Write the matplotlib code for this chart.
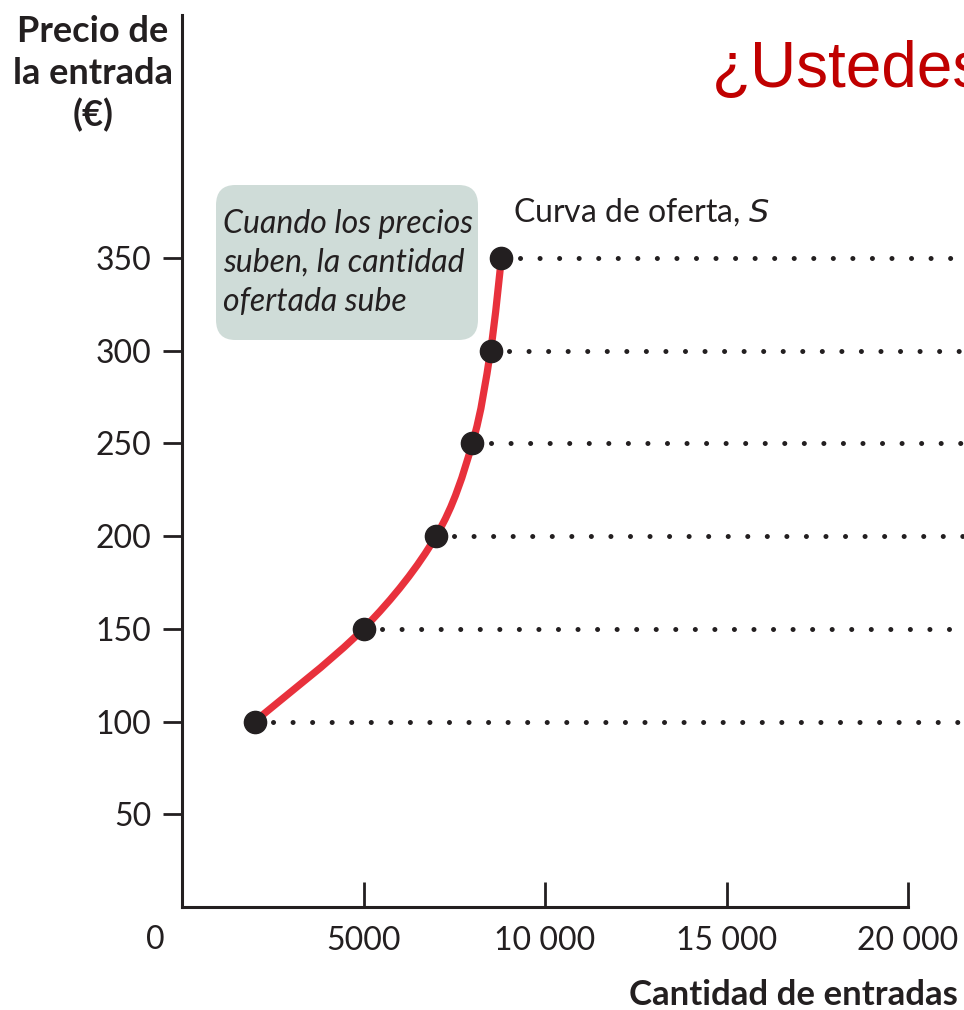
import matplotlib
matplotlib.use("Agg")
import matplotlib.pyplot as plt
from matplotlib.path import Path
from matplotlib.patches import PathPatch, FancyBboxPatch
import numpy as np

# Data
quantity = [2000, 5000, 7000, 8000, 8500, 8800]
price = [100, 150, 200, 250, 300, 350]
x_ticks = [5000, 10000, 15000, 20000]
x_tick_labels = ["5000", "10 000", "15 000", "20 000"]
y_ticks = [50, 100, 150, 200, 250, 300, 350]
y_tick_labels = ["50", "100", "150", "200", "250", "300", "350"]

FONT = "Lato"
TS = 23
fig = plt.figure(figsize=(9.64, 10.10), dpi=100)
ax = fig.add_axes([182/964, 1-907/1010, 1-182/964, (907-15)/1010])
xmax = (964-182)/36.3*1000
ymax = (907-15)/92.75*50
ax.set_xlim(0, xmax)
ax.set_ylim(0, ymax)

for s in ["top", "right"]:
    ax.spines[s].set_visible(False)
ax.spines["bottom"].set_bounds(0, 20000)
for s in ["left", "bottom"]:
    ax.spines[s].set_linewidth(2.2)
    ax.spines[s].set_color("#231f20")

ax.set_xticks(x_ticks)
ax.set_xticklabels(x_tick_labels, fontfamily=FONT, fontsize=TS, color="#231f20")
ax.set_yticks(y_ticks)
ax.set_yticklabels(y_tick_labels, fontfamily=FONT, fontsize=TS, color="#231f20")
ax.tick_params(axis="x", direction="in", length=18, width=2, color="#231f20", pad=14)
ax.tick_params(axis="y", direction="out", length=14, width=2, color="#231f20", pad=8)

# zero label
fig.text(155/964, 1-940/1010, "0", ha="center", va="center",
         fontfamily=FONT, fontsize=TS, color="#231f20")

# dotted lines
for q, p in zip(quantity, price):
    ax.plot([q + 500, xmax], [p, p], color="#231f20", lw=3.6,
            linestyle=(0, (0.01, 3.9)), dash_capstyle="round", clip_on=False, zorder=2)

# smooth supply curve (Catmull-Rom -> cubic Bezier) through data points
pts = np.column_stack([quantity, price]).astype(float)
sx, sy = 36.3/1000, 92.75/50
P = pts * [sx, sy]
verts = [tuple(P[0])]
codes = [Path.MOVETO]
n = len(P)
for i in range(n-1):
    p0 = P[i-1] if i > 0 else P[i]
    p1, p2 = P[i], P[i+1]
    p3 = P[i+2] if i+2 < n else P[i+1]
    c1 = p1 + (p2 - p0) / 6.0
    c2 = p2 - (p3 - p1) / 6.0
    verts += [tuple(c1), tuple(c2), tuple(p2)]
    codes += [Path.CURVE4]*3
verts = np.array(verts) / [sx, sy]
path = Path(verts, codes)
ax.add_patch(PathPatch(path, facecolor="none", edgecolor="#e8313c", lw=5.2,
                       capstyle="round", zorder=3))

ax.plot(quantity, price, "o", color="#231f20", markersize=16, zorder=4, clip_on=False)

# annotation box
box = FancyBboxPatch((216/964, 1-340/1010), (478-216)/964, (340-185)/1010,
                     boxstyle="round,pad=0.0,rounding_size=0.02",
                     transform=fig.transFigure, facecolor="#cfdcd8",
                     edgecolor="none", zorder=1)
fig.patches.append(box)
fig.text(223/964, 1-263/1010, "Cuando los precios\nsuben, la cantidad\nofertada sube",
         ha="left", va="center", fontfamily=FONT, fontstyle="italic",
         fontsize=TS, color="#231f20", linespacing=1.38)

fig.text(513/964, 1-212/1010, "Curva de oferta, $\\it{S}$", ha="left", va="center",
         fontfamily=FONT, fontsize=TS, color="#231f20")

# axis titles
fig.text(93/964, 1-74/1010, "Precio de\nla entrada\n(€)", ha="center", va="center",
         fontfamily=FONT, fontweight="bold", fontsize=26, color="#231f20", linespacing=1.3)
fig.text(958/964, 1-995/1010, "Cantidad de entradas", ha="right", va="center",
         fontfamily=FONT, fontweight="bold", fontsize=25, color="#231f20")

fig.text(712/964, 1-70/1010, "¿Ustedes", ha="left", va="center",
         fontfamily="Liberation Sans", fontsize=46, color="#c00000")

fig.savefig("out.png", dpi=100)
